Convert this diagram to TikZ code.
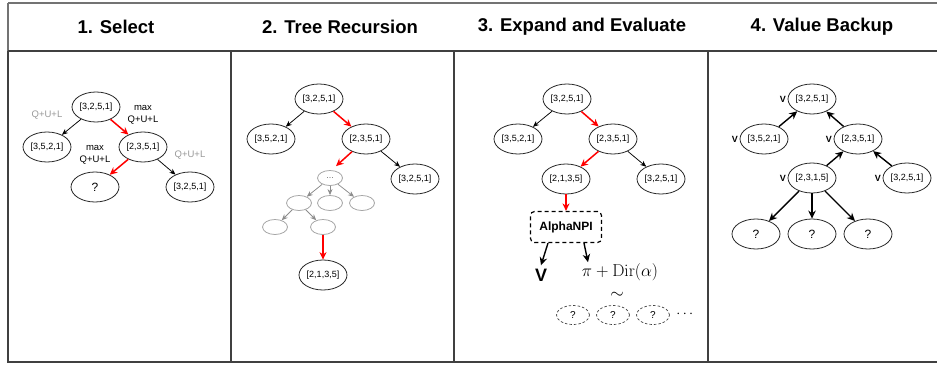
\documentclass[tikz,border=0pt]{standalone}
\usepackage[no-math]{fontspec}
\setmainfont{Liberation Sans}
\usepackage{amsmath}
\usetikzlibrary{shapes.geometric,arrows.meta,positioning}
\tikzstyle{state}     = [ellipse, draw=black!85, line width=0.8pt, minimum width=48pt, minimum height=30pt,
                         inner sep=0pt, font=\fontsize{9}{10}\selectfont]
\tikzstyle{ghost}     = [ellipse, draw=black!35, line width=0.8pt, minimum width=25pt, minimum height=15pt,
                         inner sep=0pt, text=black!55, font=\fontsize{9}{10}\selectfont]
\tikzstyle{sample}    = [ellipse, draw=black!75, dash pattern=on 2.5pt off 2pt, line width=0.7pt,
                         minimum width=33pt, minimum height=19pt, inner sep=0pt, font=\fontsize{10}{11}\selectfont]
\tikzstyle{netbox}    = [rectangle, rounded corners=4pt, draw=black, dash pattern=on 4pt off 3pt, line width=1.2pt,
                         minimum width=71pt, minimum height=31pt, font=\bfseries\fontsize{12}{14}\selectfont]
\tikzstyle{score}     = [align=center, font=\fontsize{9.5}{11.5}\selectfont]
\tikzstyle{header}    = [font=\bfseries\fontsize{18.5}{22}\selectfont]
\tikzstyle{vlabel}    = [font=\bfseries\fontsize{9}{10}\selectfont, inner sep=1.5pt]
\tikzstyle{frame}     = [line width=1.6pt, draw=black!75]
\tikzstyle{arrow}     = [line width=0.75pt, -{Stealth[length=6pt,width=5pt]}]
\tikzstyle{redarrow}  = [line width=1.5pt, -{Stealth[length=7.5pt,width=7pt]}, red]
\tikzstyle{greyarrow} = [line width=0.75pt, -{Stealth[length=6pt,width=5pt]}, black!45]
\tikzstyle{bigarrow}  = [line width=1.4pt, -{Stealth[length=8pt,width=7.5pt]}]
\begin{document}
\begin{tikzpicture}[x=1pt, y=-1pt]
	\useasboundingbox (0,0) rectangle (937,367);
	% table
	\draw[frame, draw=black!55] (8,3) -- (937,3);
	\draw[frame, draw=black!55] (8,3) -- (8,51);
	\draw[frame] (8,51) -- (937,51);
	\draw[frame] (8,51) -- (8,362) -- (937,362);
	\draw[frame] (231,51) -- (231,362);
	\draw[frame] (454,51) -- (454,362);
	\draw[frame] (708,51) -- (708,362);
	\node[header] (h1) at (116,27) {1. Select};
	\node[header] (h2) at (340,27) {2. Tree Recursion};
	\node[header] (h3) at (582,27) {3. Expand and Evaluate};
	\node[header] (h4) at (822,27) {4. Value Backup};

	% 1. select
	\node[state] (sroot)  at (96,107)  {[3,2,5,1]};
	\node[state] (sleft)  at (47,147)  {[3,5,2,1]};
	\node[state] (sright) at (143,147) {[2,3,5,1]};
	\node[state] (snew)   at (95,187)  {\fontsize{12}{14}\selectfont ?};
	\node[state] (sother) at (190,187) {[3,2,5,1]};
	\node[score, text=black!40] (q1) at (47,115)  {Q+U+L};
	\node[score]                (q2) at (143,115) {max\\Q+U+L};
	\node[score]                (q3) at (95,155)  {max\\Q+U+L};
	\node[score, text=black!40] (q4) at (190,155) {Q+U+L};
	\draw[arrow] (sroot) -- (sleft);
	\draw[redarrow] (sroot) -- (sright);
	\draw[redarrow] (sright) -- (snew);
	\draw[arrow] (sright) -- (sother);

	% 2. tree recursion
	\node[state] (rroot)  at (319,99)  {[3,2,5,1]};
	\node[state] (rleft)  at (271,139) {[3,5,2,1]};
	\node[state] (rright) at (366,139) {[2,3,5,1]};
	\node[state] (rother) at (415,179) {[3,2,5,1]};
	\node[ghost] (rdots)  at (330,178) {...};
	\node[ghost] (ra)     at (299,203) {};
	\node[ghost] (rb)     at (330,203) {};
	\node[ghost] (rc)     at (362,203) {};
	\node[ghost] (rd)     at (275,227) {};
	\node[ghost] (re)     at (323,227) {};
	\node[state] (rleaf)  at (323,275) {[2,1,3,5]};
	\draw[arrow] (rroot) -- (rleft);
	\draw[redarrow] (rroot) -- (rright);
	\draw[arrow] (rright) -- (rother);
	\draw[redarrow] (rright) -- ([xshift=6pt,yshift=4pt]rdots.north);
	\draw[greyarrow] (rdots) -- (ra);
	\draw[greyarrow] (rdots) -- (rb);
	\draw[greyarrow] (rdots) -- (rc);
	\draw[greyarrow] (ra) -- (rd);
	\draw[greyarrow] (ra) -- (re);
	\draw[redarrow] (re) -- (rleaf);

	% 3. expand and evaluate
	\node[state] (eroot)  at (567,99)  {[3,2,5,1]};
	\node[state] (eleft)  at (518,139) {[3,5,2,1]};
	\node[state] (eright) at (613,139) {[2,3,5,1]};
	\node[state] (eleaf)  at (566,179) {[2,1,3,5]};
	\node[state] (eother) at (661,179) {[3,2,5,1]};
	\node[netbox] (npi)   at (566,227) {AlphaNPI};
	\node[font=\bfseries\fontsize{18}{20}\selectfont] (vval) at (541,275) {V};
	\node[font=\fontsize{17}{20}\selectfont, inner sep=1pt] (prior) at (620,272) {$\pi + \mathrm{Dir}(\alpha)$};
	\node[font=\fontsize{17}{20}\selectfont, inner sep=0pt] (tilde) at (617,295) {$\sim$};
	\node[sample] (qa) at (573,315) {?};
	\node[sample] (qb) at (613,315) {?};
	\node[sample] (qc) at (653,315) {?};
	\node[font=\fontsize{14}{16}\selectfont] (more) at (686,314) {$\cdots$};
	\draw[arrow] (eroot) -- (eleft);
	\draw[redarrow] (eroot) -- (eright);
	\draw[redarrow] (eright) -- (eleaf);
	\draw[arrow] (eright) -- (eother);
	\draw[redarrow] (eleaf) -- (npi);
	\draw[bigarrow] ([xshift=-18pt]npi.south) -- (vval.north);
	\draw[bigarrow] ([xshift=18pt]npi.south) -- ([xshift=-32pt]prior.north);

	% 4. value backup
	\node[state, label={[vlabel]left:V}] (broot)  at (812,99)  {[3,2,5,1]};
	\node[state, label={[vlabel]left:V}] (bleft)  at (764,139) {[3,5,2,1]};
	\node[state, label={[vlabel]left:V}] (bright) at (858,139) {[2,3,5,1]};
	\node[state, label={[vlabel]left:V}] (bleaf)  at (812,178) {[2,3,1,5]};
	\node[state, label={[vlabel]left:V}] (bother) at (907,178) {[3,2,5,1]};
	\node[state] (bqa) at (756,234) {\fontsize{12}{14}\selectfont ?};
	\node[state] (bqb) at (812,234) {\fontsize{12}{14}\selectfont ?};
	\node[state] (bqc) at (868,234) {\fontsize{12}{14}\selectfont ?};
	\draw[bigarrow] (bleft) -- (broot);
	\draw[bigarrow] (bright) -- (broot);
	\draw[bigarrow] (bleaf) -- (bright);
	\draw[bigarrow] (bother) -- (bright);
	\draw[bigarrow] (bleaf) -- (bqa);
	\draw[bigarrow] (bleaf) -- (bqb);
	\draw[bigarrow] (bleaf) -- (bqc);
\end{tikzpicture}
\end{document}
